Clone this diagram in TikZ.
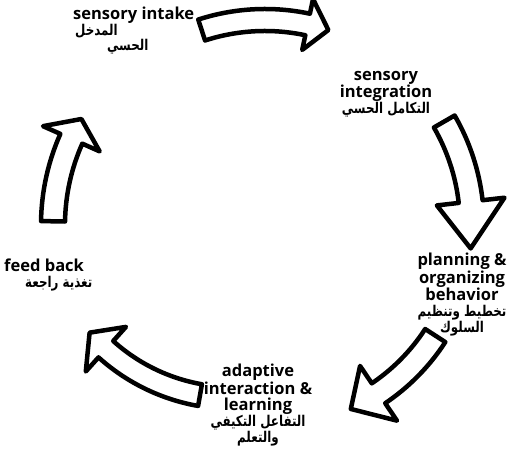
\documentclass[tikz,border=0pt]{standalone}
\usepackage{fontspec}
\usepackage{graphicx}
\setmainfont{Open Sans}
\newfontfamily\arabicfont[Script=Arabic,Scale=0.9]{DejaVu Sans}
\TeXXeTstate=1
\usetikzlibrary{calc,positioning}

% arabic text, right to left, a little condensed
\newcommand{\ar}[1]{\scalebox{0.8}[1]{\arabicfont\bfseries\beginR #1\endR}}
% curved block arrow: centre, radius, from, to, head base, half shaft, half head
\newcommand{\cyclearrow}[7]{%
  \draw[blockarrow]
    ($(#1)+({#3}:{#2+#6})$) arc[start angle=#3, end angle=#5, radius=#2+#6]
    -- ($(#1)+({#5}:{#2+#7})$) -- ($(#1)+({#4}:{#2})$) -- ($(#1)+({#5}:{#2-#7})$)
    -- ($(#1)+({#5}:{#2-#6})$) arc[start angle=#5, end angle=#3, radius=#2-#6]
    -- cycle;}

\begin{document}
\begin{tikzpicture}[x=1pt, y=1pt]
			\tikzset{stagetext/.style={font=\bfseries\fontsize{16.5}{16}\selectfont, align=center, inner sep=0pt},
        blockarrow/.style={draw, fill=white, line width=4.5pt, line join=round}
        }
			\useasboundingbox (0,0) rectangle (507,460);

			\coordinate (hub) at (265,235);
			\coordinate (hubb) at (233,252);

			\node [stagetext, anchor=west] (intake) at (73,445) {sensory intake};
			\node [stagetext, anchor=west] (intakear) at (75,429) {\ar{المدخل}};
			\node [stagetext, anchor=west] (intakeartwo) at (107,413) {\ar{الحسي}};
			\node [stagetext] (integration) at (386,366) {sensory\\integration\\\ar{التكامل الحسي}};
			\node [stagetext] (planning) at (462,165) {planning \&\\organizing\\behavior\\\ar{تخطيط وتنظيم}\\\ar{السلوك}};
			\node [stagetext] (adaptive) at (258,55) {adaptive\\interaction \&\\learning\\\ar{التفاعل التكيفي}\\\ar{والتعلم}};
			\node [stagetext, anchor=west] (feedback) at (4,195) {feed back};
			\node [stagetext, below=4pt of feedback.south west, anchor=north west, xshift=21pt] (feedbackar) {\ar{تغذية راجعة}};

			\cyclearrow{hub}{205}{108}{72}{78}{11}{26}
			\cyclearrow{hub}{207}{30}{-6.5}{6.5}{12}{34}
			\cyclearrow{hub}{203}{-33}{-65}{-56}{12}{33}
			\cyclearrow{hubb}{190}{-100}{-139}{-132}{11}{30}
			\cyclearrow{hub}{212}{179}{150}{156}{12}{31}

		\end{tikzpicture}
\end{document}
